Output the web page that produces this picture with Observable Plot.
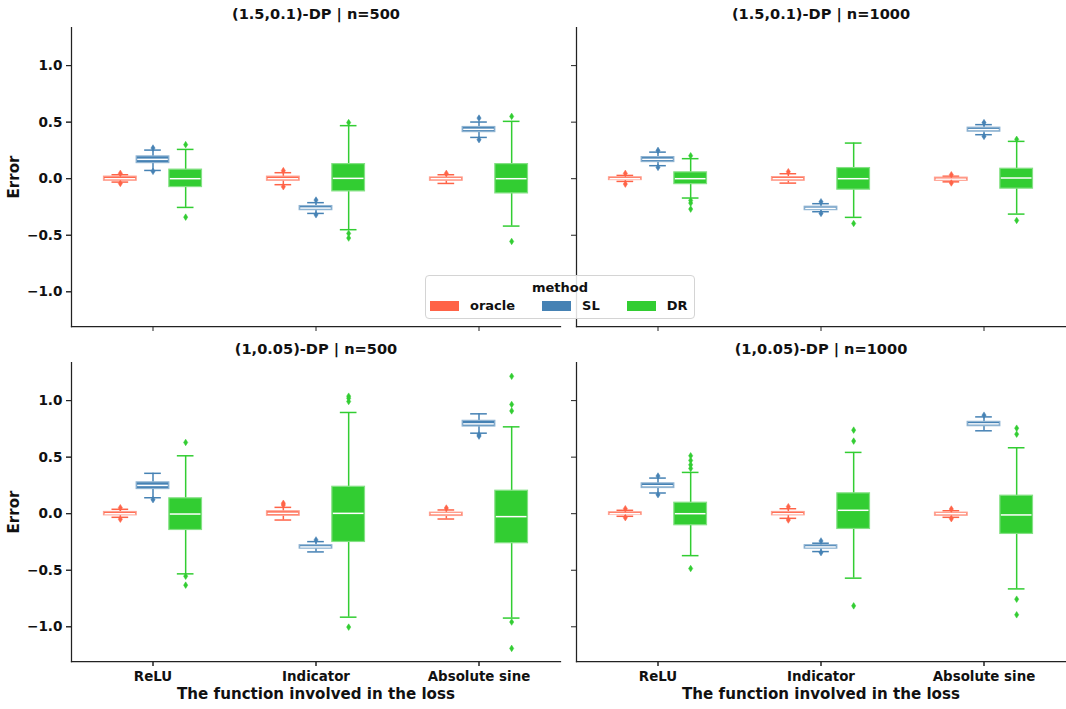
<!DOCTYPE html>
<html>
<head>
<meta charset="utf-8">
<script src="https://cdn.jsdelivr.net/npm/d3@7"></script>
<script src="https://cdn.jsdelivr.net/npm/@observablehq/plot@0.6"></script>
<style>
  body { margin: 0; background: #fff; font-family: "DejaVu Sans", sans-serif; }
  #wrap { position: relative; width: 1066px; height: 709px; }
  #legend { position: absolute; left: 425px; top: 275px; width: 268px; height: 42px;
    border: 1px solid #d4d4d4; border-radius: 4px; background: rgba(255,255,255,0.85);
    font-weight: bold; font-size: 13px; color: #111; box-sizing: content-box; }
  #legend .title { position: absolute; left: 0; right: 0; top: 4px; text-align: center; }
  #legend .items { position: absolute; left: 4px; top: 22px; display: flex; align-items: center; }
  #legend .item { display: flex; align-items: center; margin-right: 27px; }
  #legend .sw { width: 29px; height: 10px; margin-right: 11px; }
</style>
</head>
<body>
<div id="wrap">
  <div id="chart"></div>
  <div id="legend"><div class="title">method</div><div class="items"></div></div>
</div>
<script>
const categories = ["ReLU", "Indicator", "Absolute sine"];
const methods = ["oracle", "SL", "DR"];
const methodColors = ["#ff6347", "#4682b4", "#32cd32"];
const privacyLevels = ["(1.5,0.1)-DP", "(1,0.05)-DP"];
const sampleSizes = [500, 1000];
const yTicks = [-1.0, -0.5, 0.0, 0.5, 1.0];
const xLabel = "The function involved in the loss";
const yLabel = "Error";

// Panels in order: (1.5,0.1) n=500, (1.5,0.1) n=1000, (1,0.05) n=500, (1,0.05) n=1000
// Each panel: ReLU[oracle,SL,DR], Indicator[oracle,SL,DR], Absolute sine[oracle,SL,DR]
const q1 = [
  [-0.018, 0.138, -0.074, -0.018, -0.278, -0.112, -0.018, 0.412, -0.130],
  [-0.012, 0.147, -0.048, -0.018, -0.278, -0.097, -0.018, 0.416, -0.088],
  [-0.014, 0.218, -0.144, -0.018, -0.309, -0.250, -0.020, 0.771, -0.261],
  [-0.011, 0.227, -0.102, -0.014, -0.309, -0.135, -0.018, 0.774, -0.179]
];
const medians = [
  [0.000, 0.171, 0.000, 0.000, -0.260, 0.003, 0.000, 0.436, 0.000],
  [0.000, 0.171, 0.000, 0.000, -0.262, 0.000, -0.004, 0.434, 0.006],
  [0.000, 0.250, -0.003, 0.003, -0.294, 0.003, 0.000, 0.794, -0.026],
  [0.000, 0.247, 0.000, 0.000, -0.294, 0.030, 0.000, 0.794, -0.011]
];
const q3 = [
  [0.018, 0.197, 0.080, 0.018, -0.242, 0.129, 0.011, 0.457, 0.129],
  [0.012, 0.191, 0.056, 0.014, -0.248, 0.094, 0.009, 0.451, 0.088],
  [0.015, 0.277, 0.136, 0.021, -0.279, 0.238, 0.009, 0.821, 0.203],
  [0.012, 0.268, 0.097, 0.015, -0.279, 0.180, 0.009, 0.812, 0.159]
];
const whiskerLow = [
  [-0.030, 0.073, -0.254, -0.053, -0.307, -0.451, -0.042, 0.365, -0.419],
  [-0.024, 0.115, -0.171, -0.039, -0.292, -0.342, -0.028, 0.389, -0.313],
  [-0.032, 0.141, -0.532, -0.056, -0.338, -0.915, -0.047, 0.712, -0.923],
  [-0.023, 0.183, -0.371, -0.041, -0.335, -0.570, -0.032, 0.733, -0.665]
];
const whiskerHigh = [
  [0.035, 0.253, 0.259, 0.053, -0.212, 0.469, 0.035, 0.501, 0.507],
  [0.029, 0.235, 0.177, 0.044, -0.221, 0.315, 0.022, 0.478, 0.330],
  [0.039, 0.357, 0.512, 0.056, -0.247, 0.895, 0.033, 0.883, 0.768],
  [0.030, 0.315, 0.365, 0.044, -0.261, 0.542, 0.026, 0.856, 0.583]
];
const outliers = [
  [[0.047, -0.042], [0.271, 0.065], [0.301, -0.340], [0.071, -0.071], [-0.189, -0.319], [0.496, -0.484, -0.525], [0.047], [0.536, 0.345], [0.551, -0.555]],
  [[0.047, -0.048], [0.250, 0.100], [0.203, -0.192, -0.216, -0.269], [0.062], [-0.204, -0.307], [-0.396], [0.035, -0.038], [0.496, 0.374], [0.348, -0.369]],
  [[0.053, -0.049], [0.124], [0.630, -0.553, -0.632], [0.092, 0.077], [-0.232], [1.039, 1.021, 0.992, -1.003], [0.050], [0.697, 0.686], [1.215, 0.966, 0.909, -0.958, -1.191]],
  [[0.044, -0.035], [0.333, 0.168], [0.512, 0.471, 0.432, 0.400, -0.485], [0.062, -0.056], [-0.241, -0.344], [0.739, 0.642, -0.815], [0.041, -0.044], [0.871], [0.756, 0.703, -0.756, -0.894]]
];

// Build tables
const boxes = [], fliers = [];
privacyLevels.forEach((dp, r) => sampleSizes.forEach((n, c) => {
  const p = r * 2 + c;
  categories.forEach((cat, i) => methods.forEach((m, j) => {
    const k = i * 3 + j;
    boxes.push({dp, n, cat, method: m, q1: q1[p][k], med: medians[p][k], q3: q3[p][k], lo: whiskerLow[p][k], hi: whiskerHigh[p][k]});
    outliers[p][k].forEach(v => fliers.push({dp, n, cat, method: m, value: v}));
  }));
}));
const panelTitles = privacyLevels.flatMap(dp => sampleSizes.map(n => ({dp, n, title: `${dp} | n=${n}`})));

const thinDiamond = {
  draw(context) {
    context.moveTo(0, -3.3); context.lineTo(2.1, 0); context.lineTo(0, 3.3); context.lineTo(-2.1, 0); context.closePath();
  }
};

const bandStep = 490 / 3;
const hueOffset = bandStep * 0.2;
const boxInset = (bandStep - 33) / 2;
const capInset = (bandStep - 17) / 2;

const methodMarks = methods.flatMap((m, j) => {
  const col = methodColors[j];
  const edge = d3.interpolateRgb(col, "white")(0.4);
  const dx = (j - 1) * hueOffset;
  const b = boxes.filter(d => d.method === m);
  const f = fliers.filter(d => d.method === m);
  const base = {fx: "n", fy: "dp", x: "cat", dx};
  return [
    Plot.ruleX(b, {...base, y1: "lo", y2: "q1", stroke: col, strokeWidth: 1.5}),
    Plot.ruleX(b, {...base, y1: "q3", y2: "hi", stroke: col, strokeWidth: 1.5}),
    Plot.tickY(b, {...base, y: "lo", stroke: col, strokeWidth: 1.5, insetLeft: capInset, insetRight: capInset}),
    Plot.tickY(b, {...base, y: "hi", stroke: col, strokeWidth: 1.5, insetLeft: capInset, insetRight: capInset}),
    Plot.barY(b, {...base, y1: "q1", y2: "q3", fill: col, stroke: edge, strokeWidth: 1.2, insetLeft: boxInset, insetRight: boxInset}),
    Plot.tickY(b, {...base, y: "med", stroke: "white", strokeWidth: 1.5, insetLeft: boxInset + 1, insetRight: boxInset + 1}),
    Plot.dot(f, {...base, y: "value", fill: col, stroke: col, strokeWidth: 0.5, symbol: thinDiamond})
  ];
});

const chart = Plot.plot({
  width: 1066,
  height: 709,
  marginLeft: 70,
  marginRight: 0,
  marginTop: 26,
  marginBottom: 47,
  style: {fontFamily: "DejaVu Sans", fontSize: "13px", fontWeight: "bold", color: "#111", background: "#fff"},
  x: {domain: categories, padding: 0, label: null},
  y: {domain: [-1.307, 1.337], label: null},
  fx: {domain: sampleSizes, paddingInner: 0.0316, paddingOuter: 0, axis: null},
  fy: {domain: privacyLevels, paddingInner: 0.107, paddingOuter: 0, axis: null},
  marks: [
    Plot.frame({anchor: "left", stroke: "#222", strokeWidth: 1.25}),
    Plot.frame({anchor: "bottom", stroke: "#222", strokeWidth: 1.25}),
    Plot.axisX({facetAnchor: null, tickSize: 5, tickFormat: () => "", label: null, stroke: "#222"}),
    Plot.axisX({facetAnchor: "bottom", tickSize: 5, tickPadding: 5, label: null, fontSize: 13.4, stroke: "#222"}),
    Plot.axisY({facetAnchor: null, ticks: yTicks, tickSize: 5, tickFormat: () => "", label: null, stroke: "#222"}),
    Plot.axisY({facetAnchor: "left", ticks: yTicks, tickSize: 5, tickPadding: 4, tickFormat: d3.format(".1f"), label: null, fontSize: 13.6, stroke: "#222"}),
    ...methodMarks,
    Plot.text(panelTitles, {fx: "n", fy: "dp", text: "title", frameAnchor: "top", lineAnchor: "middle", dy: -13, fontSize: 14.6, fontWeight: "bold", fill: "#111"}),
    Plot.text(privacyLevels, {fx: () => sampleSizes[0], fy: d => d, text: () => yLabel, frameAnchor: "left", textAnchor: "middle", lineAnchor: "middle", dx: -57, rotate: -90, fontSize: 15, fontWeight: "bold", fill: "#111"}),
    Plot.text(sampleSizes, {fx: d => d, fy: () => privacyLevels[1], text: () => xLabel, frameAnchor: "bottom", lineAnchor: "middle", textAnchor: "middle", dy: 33, fontSize: 15.1, fontWeight: "bold", fill: "#111"})
  ]
});
document.getElementById("chart").append(chart);

const items = d3.select("#legend .items");
methods.forEach((m, j) => {
  const it = items.append("div").attr("class", "item");
  it.append("div").attr("class", "sw").style("background", methodColors[j]);
  it.append("span").text(m);
});
</script>
</body>
</html>
